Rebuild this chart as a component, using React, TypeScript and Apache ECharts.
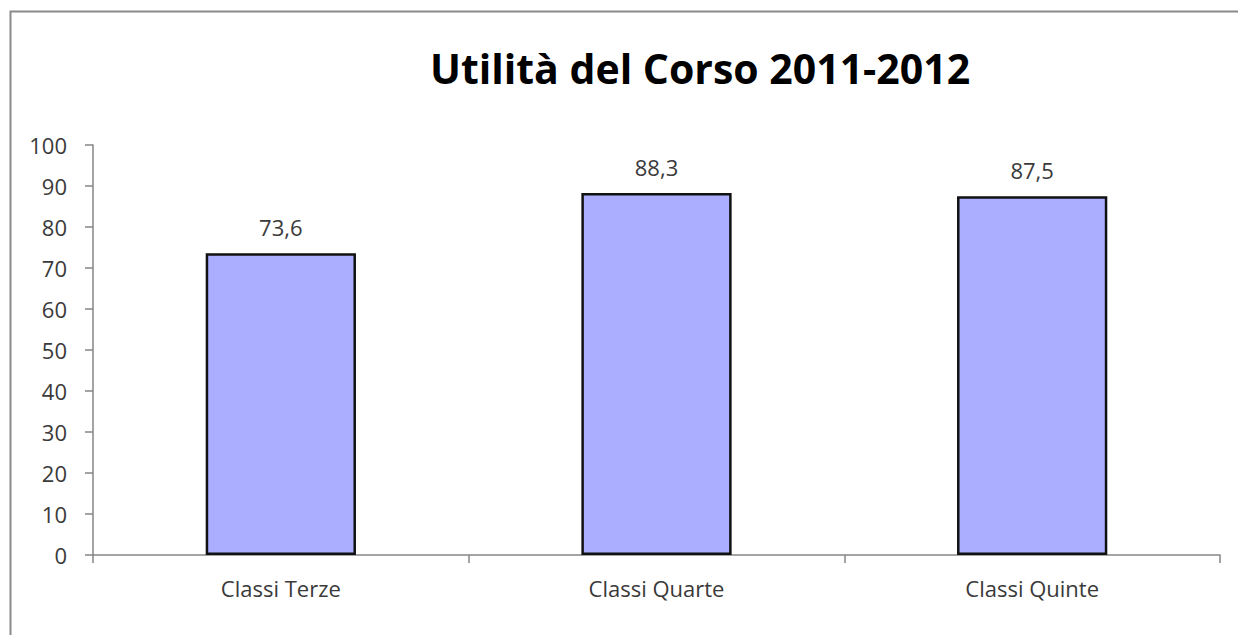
import React, { useEffect, useRef } from "react";
import * as echarts from "echarts";

const categories = ["Classi Terze", "Classi Quarte", "Classi Quinte"];
const values = [73.6, 88.3, 87.5];
const titleText = "Utilità del Corso 2011-2012";

export default function App() {
  const ref = useRef<HTMLDivElement>(null);
  useEffect(() => {
    const chart = echarts.init(ref.current!, null, { renderer: "svg" });
    chart.setOption({
      animation: false,
      backgroundColor: "#ffffff",
      title: {
        text: titleText,
        left: 695,
        textAlign: "center",
        top: 42,
        textStyle: { fontFamily: "Open Sans", fontWeight: "bold", fontSize: 41, color: "#000000" },
      },
      graphic: [
        {
          type: "rect",
          shape: { x: 10.5, y: 11.5, width: 1300, height: 700 },
          style: { fill: "none", stroke: "#8a8a8a", lineWidth: 2 },
          silent: true,
          z: -1,
        },
      ],
      grid: { left: 93, right: 18, top: 145, bottom: 80 },
      xAxis: {
        type: "category",
        data: categories,
        axisLine: { lineStyle: { color: "#868686", width: 1.5 } },
        axisTick: { show: true, length: 8, alignWithLabel: false, lineStyle: { color: "#868686", width: 1.5 } },
        axisLabel: { color: "#3a3a3a", fontFamily: "Open Sans", fontSize: 22, margin: 22 },
      },
      yAxis: {
        type: "value",
        min: 0,
        max: 100,
        interval: 10,
        axisLine: { show: true, lineStyle: { color: "#868686", width: 1.5 } },
        axisTick: { show: true, length: 8, lineStyle: { color: "#868686", width: 1.5 } },
        axisLabel: { color: "#3a3a3a", fontFamily: "Open Sans", fontSize: 22, margin: 26 },
        splitLine: { show: false },
      },
      series: [
        {
          type: "bar",
          data: values,
          barWidth: "40%",
          itemStyle: { color: "#abaeff", borderColor: "#111111", borderWidth: 2.5 },
          label: {
            show: true,
            position: "top",
            distance: 15,
            formatter: (p: any) => String(p.value).replace(".", ","),
            color: "#3a3a3a",
            fontFamily: "Open Sans",
            fontSize: 22,
          },
        },
      ],
    });
    return () => chart.dispose();
  }, []);
  return (
    <div
      ref={ref}
      style={{ position: "absolute", left: 0, top: 0, width: 1238, height: 635 }}
    />
  );
}
